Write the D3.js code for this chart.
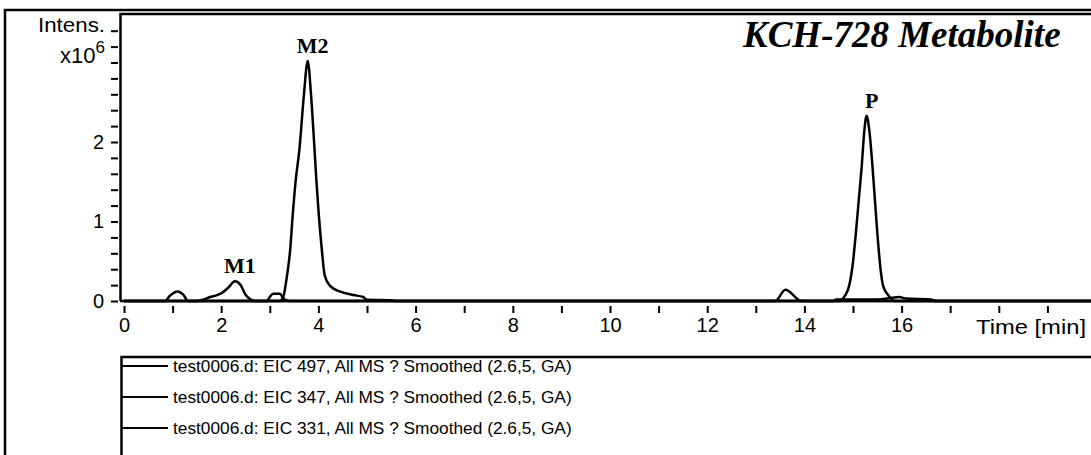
<!DOCTYPE html>
<html>
<head>
<meta charset="utf-8">
<script src="https://cdn.jsdelivr.net/npm/d3@7"></script>
<style>
  html, body { margin: 0; padding: 0; background: #fff; }
  svg { display: block; }
  .tick text { font-family: "Liberation Sans", Arial, sans-serif; fill: #000; }
</style>
</head>
<body>
<svg id="chart" width="1091" height="455"></svg>
<script>
// Extracted ion chromatograms: [retention time (min), intensity (x10^6)]
const eic497 = [
  [0, 0], [3.2, 0], [3.27, 0.04], [3.35, 0.30], [3.42, 0.65], [3.47, 1.07],
  [3.53, 1.50], [3.61, 1.91], [3.70, 2.58], [3.78, 3.02], [3.85, 2.58],
  [3.92, 1.91], [3.96, 1.50], [4.01, 1.07], [4.07, 0.65], [4.13, 0.32],
  [4.24, 0.19], [4.44, 0.12], [4.72, 0.075], [4.92, 0.05], [5.0, 0.015],
  [5.5, 0.01], [5.6, 0], [20, 0]
];
const eic347 = [
  [0, 0], [1.5, 0], [1.65, 0.02], [1.77, 0.05], [1.9, 0.07], [2.01, 0.10],
  [2.15, 0.17], [2.28, 0.25], [2.40, 0.20], [2.50, 0.08], [2.60, 0.02],
  [2.70, 0], [2.94, 0], [3.0, 0.05], [3.07, 0.09], [3.2, 0.09], [3.3, 0.02],
  [3.4, 0], [14.6, 0], [14.65, 0.02], [15.0, 0.02], [15.5, 0.02],
  [15.8, 0.04], [15.95, 0.05], [16.1, 0.03], [16.6, 0.02], [16.7, 0], [20, 0]
];
const eic331 = [
  [0, 0], [0.84, 0], [0.95, 0.07], [1.1, 0.12], [1.22, 0.08], [1.32, 0],
  [13.4, 0], [13.61, 0.14], [13.94, 0], [14.7, 0], [14.84, 0.07],
  [14.92, 0.19], [14.99, 0.44], [15.06, 0.86], [15.12, 1.28], [15.18, 1.70],
  [15.23, 2.12], [15.28, 2.33], [15.34, 2.12], [15.40, 1.70], [15.45, 1.28],
  [15.50, 0.86], [15.56, 0.44], [15.62, 0.19], [15.73, 0.07], [15.85, 0], [20, 0]
];
const seriesNames = [
  "test0006.d: EIC 497, All MS ? Smoothed (2.6,5, GA)",
  "test0006.d: EIC 347, All MS ? Smoothed (2.6,5, GA)",
  "test0006.d: EIC 331, All MS ? Smoothed (2.6,5, GA)"
];

// Peak annotations
const peakLabels = ["M1", "M2", "P"];
const peakTimes = [2.28, 3.78, 15.28];
const peakHeights = [0.25, 3.02, 2.33];

// Axis ticks
const xTickValues = d3.range(0, 20, 1);
const xLabelValues = [0, 2, 4, 6, 8, 10, 12, 14, 16];
const yTickValues = d3.range(0, 3.5, 0.2).map(v => +v.toFixed(1));
const yLabelValues = [0, 1, 2];

const title = "KCH-728 Metabolite";

const svg = d3.select("#chart");
const W = 1091, H = 455;

const x = d3.scaleLinear().domain([0, 20]).range([124, 124 + 20 * 48.6]);
const y = d3.scaleLinear().domain([0, 3.6]).range([301, 301 - 3.6 * 79.5]);

const sans = '"Liberation Sans", Arial, sans-serif';
const serif = '"Liberation Serif", "Times New Roman", serif';

// Outer frame (left and top edges visible)
svg.append("path")
  .attr("d", `M5,${H} L5,10 L${W},10`)
  .attr("fill", "none").attr("stroke", "#000").attr("stroke-width", 2.5);

// Plot frame
svg.append("path")
  .attr("d", `M120.5,301 L120.5,14 L${W},14`)
  .attr("fill", "none").attr("stroke", "#000").attr("stroke-width", 2.5);

// Legend frame
svg.append("path")
  .attr("d", `M121.5,${H} L121.5,357 L${W},357`)
  .attr("fill", "none").attr("stroke", "#000").attr("stroke-width", 2.5);

// Y axis
const yAxis = d3.axisLeft(y)
  .tickValues(yTickValues)
  .tickSize(7)
  .tickPadding(7)
  .tickFormat(d => yLabelValues.includes(d) ? d3.format("d")(d) : "");
const gy = svg.append("g").attr("transform", "translate(118,0)").call(yAxis);
gy.select(".domain").remove();
gy.selectAll(".tick line").attr("stroke", "#000").attr("stroke-width", 2);
gy.selectAll(".tick text").style("font-size", "20px");

// X axis
const xAxis = d3.axisBottom(x)
  .tickValues(xTickValues)
  .tickSize(7)
  .tickPadding(5)
  .tickFormat(d => xLabelValues.includes(d) ? d3.format("d")(d) : "");
const gx = svg.append("g").attr("transform", "translate(0,306)").call(xAxis);
gx.select(".domain").remove();
gx.selectAll(".tick line").attr("stroke", "#000").attr("stroke-width", 2);
gx.selectAll(".tick text").style("font-size", "20px");

// Axis baseline
svg.append("line")
  .attr("x1", 120).attr("x2", W).attr("y1", y(0)).attr("y2", y(0))
  .attr("stroke", "#000").attr("stroke-width", 2.5);

// Axis titles
svg.append("text").attr("x", 105).attr("y", 32)
  .attr("text-anchor", "end").style("font-family", sans).style("font-size", "21px")
  .attr("textLength", 67).attr("lengthAdjust", "spacingAndGlyphs")
  .text("Intens.");
const unit = svg.append("text").attr("x", 105).attr("y", 63)
  .attr("text-anchor", "end").style("font-family", sans).style("font-size", "22px");
unit.append("tspan").text("x10");
unit.append("tspan").attr("dy", -10).style("font-size", "17px").text("6");

svg.append("text").attr("x", 1086).attr("y", 334)
  .attr("text-anchor", "end").style("font-family", sans).style("font-size", "21px")
  .attr("textLength", 110).attr("lengthAdjust", "spacingAndGlyphs")
  .text("Time [min]");

// Traces
const line = d3.line()
  .x(d => x(d[0]))
  .y(d => y(d[1]))
  .curve(d3.curveMonotoneX);

svg.append("clipPath").attr("id", "plotClip")
  .append("rect").attr("x", 121).attr("y", 15).attr("width", W - 121).attr("height", 290);

svg.append("g").attr("clip-path", "url(#plotClip)")
  .selectAll("path.trace")
  .data([eic497, eic347, eic331])
  .join("path")
  .attr("class", "trace")
  .attr("d", line)
  .attr("fill", "none")
  .attr("stroke", "#000")
  .attr("stroke-width", 2.5)
  .attr("stroke-linejoin", "round");

// Peak labels
svg.selectAll("text.peak")
  .data(peakLabels)
  .join("text")
  .attr("class", "peak")
  .attr("x", (d, i) => x(peakTimes[i]) + 5)
  .attr("y", (d, i) => y(peakHeights[i]) - 8)
  .attr("text-anchor", "middle")
  .style("font-family", serif)
  .style("font-weight", "bold")
  .style("font-size", "22px")
  .text(d => d);

// Title
svg.append("text")
  .attr("x", 743).attr("y", 47)
  .style("font-family", serif)
  .style("font-weight", "bold")
  .style("font-style", "italic")
  .style("font-size", "37px")
  .text(title);

// Legend
const rowY = [366, 397, 428];
const legend = svg.append("g");
legend.selectAll("line")
  .data(seriesNames)
  .join("line")
  .attr("x1", 122).attr("x2", 168)
  .attr("y1", (d, i) => rowY[i]).attr("y2", (d, i) => rowY[i])
  .attr("stroke", "#000").attr("stroke-width", 2);
legend.selectAll("text")
  .data(seriesNames)
  .join("text")
  .attr("x", 173)
  .attr("y", (d, i) => rowY[i] + 6)
  .style("font-family", sans)
  .style("font-size", "17.3px")
  .text(d => d);
</script>
</body>
</html>
